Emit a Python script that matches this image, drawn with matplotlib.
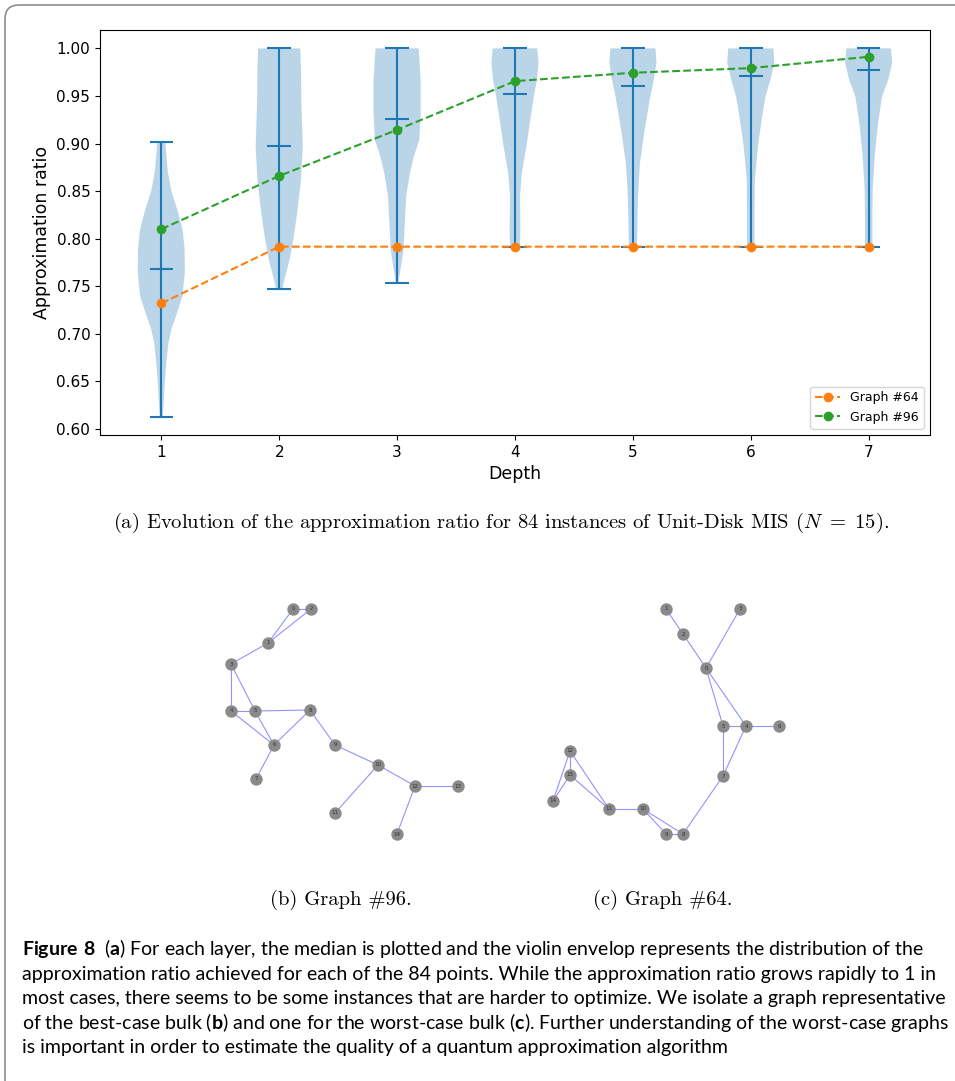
import matplotlib
matplotlib.use("Agg")
import matplotlib.pyplot as plt
from matplotlib.patches import FancyBboxPatch

plt.rcParams["mathtext.fontset"] = "custom"
plt.rcParams["mathtext.rm"] = "Lato"
plt.rcParams["mathtext.bf"] = "Lato:bold"

W, H = 955, 1081

# ---- (a) approximation ratio per depth over the 84 instances ----
depths = [1, 2, 3, 4, 5, 6, 7]
ratio_min = [0.613, 0.747, 0.753, 0.7916, 0.7916, 0.7916, 0.7916]
ratio_max = [0.902, 1.000, 1.000, 1.000, 1.000, 1.000, 1.000]
ratio_mid = [0.768, 0.897, 0.9256, 0.9516, 0.960, 0.9709, 0.9776]

# violin envelopes: ratio levels and relative density at each level
env_levels = [
    [0.613, 0.630, 0.650, 0.670, 0.690, 0.705, 0.720, 0.740, 0.765, 0.790, 0.810, 0.830, 0.850, 0.870, 0.890, 0.902],
    [0.747, 0.757, 0.778, 0.802, 0.827, 0.862, 0.897, 0.943, 0.978, 1.000],
    [0.753, 0.767, 0.788, 0.809, 0.845, 0.869, 0.887, 0.904, 0.932, 0.967, 1.000],
    [0.7916, 0.794, 0.809, 0.845, 0.869, 0.897, 0.922, 0.950, 0.967, 0.985, 1.000],
    [0.7916, 0.794, 0.809, 0.845, 0.880, 0.915, 0.950, 0.967, 0.985, 1.000],
    [0.7916, 0.795, 0.827, 0.862, 0.897, 0.929, 0.950, 0.967, 0.985, 1.000],
    [0.7916, 0.794, 0.827, 0.852, 0.887, 0.922, 0.950, 0.967, 0.985, 1.000],
]
env_density = [
    [1.5, 2.5, 3.5, 5, 7, 10, 15, 21, 23.3, 23, 21, 16, 10, 6.5, 4.8, 4],
    [3, 5, 10, 14, 17.3, 21, 22.7, 21.3, 21, 20.3],
    [1, 3.3, 6.3, 7.3, 9, 12.7, 16.7, 22, 23.3, 23.3, 21.3],
    [5, 5, 5.3, 5, 6.7, 11.3, 14.7, 18.7, 21.7, 23.3, 22],
    [4, 4, 4.3, 5, 7, 11.7, 17.3, 20.7, 23.3, 22.3],
    [3.7, 3.7, 3.7, 4, 7, 11.3, 14.7, 19.3, 23.3, 22.3],
    [3.7, 3.7, 3.7, 4, 6, 9.3, 13.3, 19.3, 23.3, 22],
]

graph64 = [0.732, 0.7916, 0.7916, 0.7916, 0.7916, 0.7916, 0.7916]
graph96 = [0.810, 0.866, 0.9144, 0.9656, 0.9744, 0.9793, 0.9912]

yticks = [0.60, 0.65, 0.70, 0.75, 0.80, 0.85, 0.90, 0.95, 1.00]

# ---- (b), (c) unit-disk graphs: node layout and edges ----
g96_x = [0.93, 0.68, 1.11, 0.31, 0.31, 0.55, 0.74, 0.56, 1.10, 1.35, 1.78, 1.35, 2.15, 2.58, 1.97]
g96_y = [2.41, 2.07, 2.41, 1.86, 1.39, 1.39, 1.05, 0.71, 1.40, 1.05, 0.85, 0.37, 0.64, 0.64, 0.16]
g96_edges = [(0, 2), (0, 1), (1, 2), (1, 3), (3, 4), (3, 5), (4, 5), (5, 8), (4, 6), (5, 6),
             (6, 8), (6, 7), (8, 9), (9, 10), (10, 11), (10, 12), (12, 13), (12, 14)]

g64_x = [1.76, 1.36, 1.53, 2.10, 2.16, 1.93, 2.49, 1.93, 1.53, 1.36, 1.13, 0.79, 0.40, 0.40, 0.23]
g64_y = [1.82, 2.41, 2.16, 2.41, 1.24, 1.24, 1.24, 0.74, 0.16, 0.16, 0.41, 0.41, 0.99, 0.75, 0.49]
g64_edges = [(1, 2), (2, 0), (3, 0), (0, 5), (0, 4), (4, 5), (4, 6), (5, 7), (4, 7), (7, 8),
             (8, 9), (8, 10), (9, 10), (10, 11), (11, 12), (11, 13), (12, 13), (12, 14), (13, 14)]

caption_lines = [
    r"$\mathbf{Figure\ 8}$  ($\mathbf{a}$) For each layer, the median is plotted and the violin envelop represents the distribution of the",
    "approximation ratio achieved for each of the 84 points. While the approximation ratio grows rapidly to 1 in",
    "most cases, there seems to be some instances that are harder to optimize. We isolate a graph representative",
    r"of the best-case bulk ($\mathbf{b}$) and one for the worst-case bulk ($\mathbf{c}$). Further understanding of the worst-case graphs",
    "is important in order to estimate the quality of a quantum approximation algorithm",
]

fig = plt.figure(figsize=(W / 100, H / 100), dpi=100)

# page layer in pixel units, for the frame and the captions
page = fig.add_axes([0, 0, 1, 1])
page.set_xlim(0, W)
page.set_ylim(H, 0)
page.axis("off")
page.add_patch(FancyBboxPatch((5, 5), 990, 1100, boxstyle="round,pad=0,rounding_size=14",
                              fc="none", ec="#8c8c8c", lw=1.2))

# violin chart
ax = fig.add_axes([100 / W, 1 - 435 / H, 830 / W, 405 / H])
stats = []
for lv, dn, lo, hi, mid in zip(env_levels, env_density, ratio_min, ratio_max, ratio_mid):
    stats.append(dict(coords=lv, vals=dn, mean=mid, median=mid, min=lo, max=hi))
parts = ax.violin(stats, positions=depths, widths=0.4, showmedians=True)
for body in parts["bodies"]:
    body.set_facecolor("C0")
    body.set_edgecolor("none")
    body.set_alpha(0.3)

ax.plot(depths, graph64, "o--", color="C1", lw=1.5, markersize=6, label="Graph #64")
ax.plot(depths, graph96, "o--", color="C2", lw=1.5, markersize=6, label="Graph #96")
ax.set_yticks(yticks)
ax.set_xticks(depths)
ax.tick_params(labelsize=11)
ax.set_xlabel("Depth", fontsize=12.5)
ax.set_ylabel("Approximation ratio", fontsize=12.5)
ax.legend(loc="lower right", fontsize=9)

# graph panels
panels = [
    (g96_x, g96_y, g96_edges, 200, 2.8),
    (g64_x, g64_y, g64_edges, 530, 2.7),
]
for gx, gy, edges, left, span in panels:
    gax = fig.add_axes([left / W, 1 - 850 / H, span * 100 / W, 260 / H])
    for u, v in edges:
        gax.plot([gx[u], gx[v]], [gy[u], gy[v]], color="#4a4aff", alpha=0.6, lw=0.8, zorder=1)
    gax.scatter(gx, gy, s=80, color="#8a8a8a", zorder=2, linewidths=0)
    for i in range(len(gx)):
        gax.text(gx[i], gy[i], str(i), fontsize=4, ha="center", va="center", color="#333333", zorder=3)
    gax.set_xlim(0, span)
    gax.set_ylim(0, 2.6)
    gax.axis("off")

page.text(501, 523, r"(a) Evolution of the approximation ratio for 84 instances of Unit-Disk MIS ($N\ =\ 15$).",
          fontfamily="cmr10", math_fontfamily="cm", fontsize=14.8, ha="center", va="center")
page.text(341, 900, "(b) Graph #96.", fontfamily="cmr10", fontsize=14.8, ha="center", va="center")
page.text(663, 900, "(c) Graph #64.", fontfamily="cmr10", fontsize=14.8, ha="center", va="center")

for i, line in enumerate(caption_lines):
    page.text(22, 955 + i * 24.6, line, fontfamily="Lato", fontsize=14, ha="left", va="baseline")

fig.savefig("out.png", dpi=100)
